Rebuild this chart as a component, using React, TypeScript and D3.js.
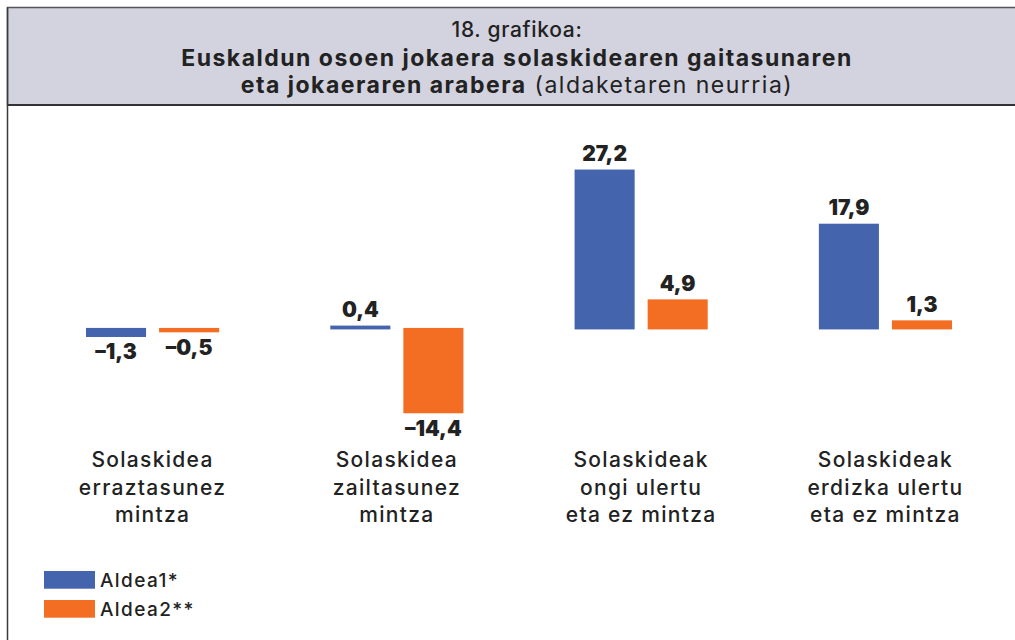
import * as d3 from 'd3';

// categories (each label broken into lines as in the original)
const categories = ['erraztasunez', 'zailtasunez', 'ongi', 'erdizka'];
const categoryLines = [
  ['Solaskidea', 'erraztasunez', 'mintza'],
  ['Solaskidea', 'zailtasunez', 'mintza'],
  ['Solaskideak', 'ongi ulertu', 'eta ez mintza'],
  ['Solaskideak', 'erdizka ulertu', 'eta ez mintza'],
];
const seriesKeys = ['Aldea1*', 'Aldea2**'];
const aldea1 = [-1.3, 0.4, 27.2, 17.9];
const aldea2 = [-0.5, -14.4, 4.9, 1.3];
const colors = ['#4464ae', '#f36d23'];

const W = 1015;
const H = 640;
const FONT = 'Inter, "Noto Sans", sans-serif';
const fmt = (v: number) => (v < 0 ? '\u2013' : '') + Math.abs(v).toFixed(1).replace('.', ',');

export default function App() {
  const x0 = d3.scaleBand<string>().domain(categories).range([86, 952]).paddingInner(0.455).paddingOuter(0);
  const x1 = d3.scaleBand<number>().domain([0, 1]).range([0, x0.bandwidth()]).paddingInner(0.178);
  const y = d3.scaleLinear().domain([-15, 30]).range([416, 154]);

  const series = [aldea1, aldea2];

  return (
    <svg width={W} height={H} style={{ position: 'absolute', left: 0, top: 0 }} fontFamily={FONT}>
      <rect x={0} y={0} width={W} height={H} fill="#fff" />
      {/* header */}
      <rect x={7.5} y={7.5} width={W + 10} height={97.5} fill="#d3d2df" stroke="#555" strokeWidth={1.5} />
      <line x1={7.5} x2={W} y1={105} y2={105} stroke="#333" strokeWidth={2} />
      <line x1={7.5} x2={7.5} y1={7.5} y2={H} stroke="#3a3a3a" strokeWidth={1.5} />
      <g textAnchor="middle" fill="#222">
        <text x={517} y={37} fontSize={21} fontWeight={500} letterSpacing={0.7}>18. grafikoa:</text>
        <text x={517} y={66} fontSize={23} fontWeight={700} letterSpacing={1.5}>
          Euskaldun osoen jokaera solaskidearen gaitasunaren
        </text>
        <text x={517} y={93} fontSize={23} letterSpacing={1.5}>
          <tspan fontWeight={700}>eta jokaeraren arabera</tspan>
          <tspan fontWeight={400}> (aldaketaren neurria)</tspan>
        </text>
      </g>

      {/* bars */}
      {categories.map((c, i) => (
        <g key={c} transform={`translate(${x0(c)},0)`}>
          {series.map((s, k) => {
            const v = s[i];
            const top = y(Math.max(0, v));
            const bot = y(Math.min(0, v));
            const cx = (x1(k) ?? 0) + x1.bandwidth() / 2;
            return (
              <g key={k}>
                <rect x={x1(k)} y={top - 0.75} width={x1.bandwidth()} height={bot - top + 1.5} fill={colors[k]} />
                <text
                  x={cx}
                  y={v >= 0 ? y(v) - 9 : y(v) + 23}
                  textAnchor="middle"
                  fontSize={21}
                  fontWeight={900}
                  fill="#222"
                >
                  {fmt(v)}
                </text>
              </g>
            );
          })}
          {categoryLines[i].map((line, j) => (
            <text
              key={j}
              x={x0.bandwidth() / 2}
              y={467 + j * 27.5}
              textAnchor="middle"
              fontSize={21}
              fontWeight={500}
              letterSpacing={1.3}
              fill="#222"
            >
              {line}
            </text>
          ))}
        </g>
      ))}

      {/* legend */}
      {seriesKeys.map((k, i) => (
        <g key={k} transform={`translate(44,${571 + i * 29})`}>
          <rect x={0} y={0} width={51} height={17.7} fill={colors[i]} />
          <text x={56} y={15.5} fontSize={19} fontWeight={500} letterSpacing={1.4} fill="#222">{k}</text>
        </g>
      ))}
    </svg>
  );
}
